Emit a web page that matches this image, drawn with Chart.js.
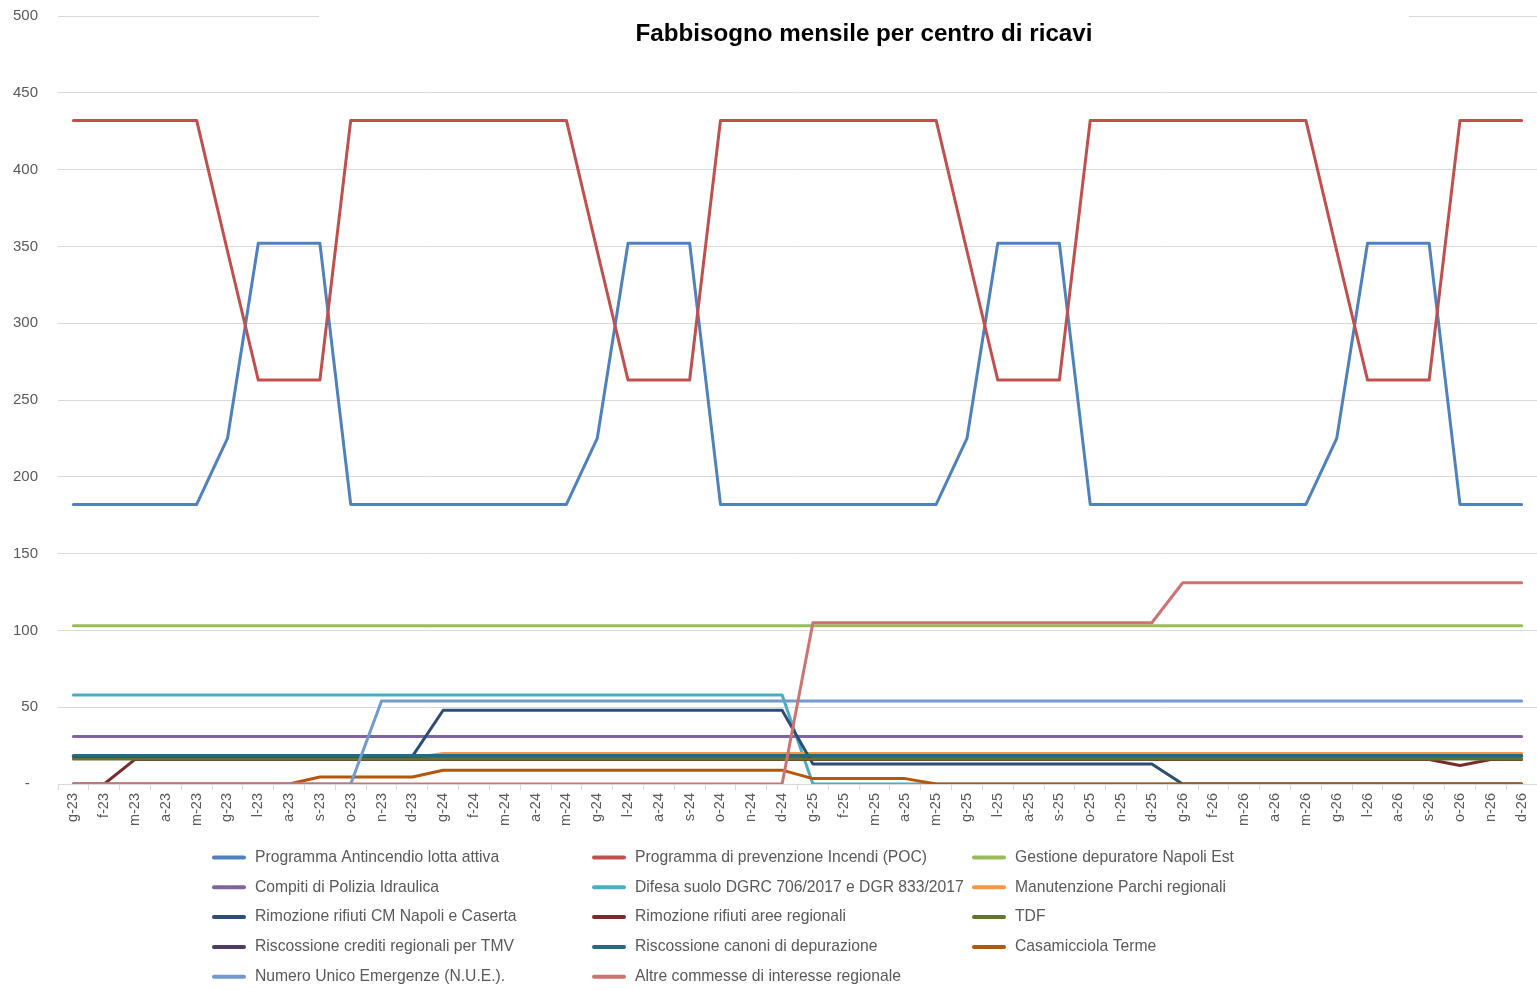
<!DOCTYPE html>
<html>
<head>
<meta charset="utf-8">
<script src="https://cdn.jsdelivr.net/npm/chart.js@4.4.1/dist/chart.umd.min.js"></script>
<style>
  body { margin: 0; background: #fff; }
  canvas { display: block; }
</style>
</head>
<body>
<canvas id="chart" width="1537" height="990"></canvas>
<script>
// --- data ---
const chartTitle = 'Fabbisogno mensile per centro di ricavi';

const months = [
  'g-23','f-23','m-23','a-23','m-23','g-23','l-23','a-23','s-23','o-23','n-23','d-23',
  'g-24','f-24','m-24','a-24','m-24','g-24','l-24','a-24','s-24','o-24','n-24','d-24',
  'g-25','f-25','m-25','a-25','m-25','g-25','l-25','a-25','s-25','o-25','n-25','d-25',
  'g-26','f-26','m-26','a-26','m-26','g-26','l-26','a-26','s-26','o-26','n-26','d-26'
];

const yTicks = [0, 50, 100, 150, 200, 250, 300, 350, 400, 450, 500];

const antincendio = [
  182,182,182,182,182,225,352,352,352,182,182,182,
  182,182,182,182,182,225,352,352,352,182,182,182,
  182,182,182,182,182,225,352,352,352,182,182,182,
  182,182,182,182,182,225,352,352,352,182,182,182
];
const prevenzione = [
  432,432,432,432,432,347,263,263,263,432,432,432,
  432,432,432,432,432,347,263,263,263,432,432,432,
  432,432,432,432,432,347,263,263,263,432,432,432,
  432,432,432,432,432,347,263,263,263,432,432,432
];
const depuratoreNapoliEst = [
  103,103,103,103,103,103,103,103,103,103,103,103,
  103,103,103,103,103,103,103,103,103,103,103,103,
  103,103,103,103,103,103,103,103,103,103,103,103,
  103,103,103,103,103,103,103,103,103,103,103,103
];
const poliziaIdraulica = [
  31,31,31,31,31,31,31,31,31,31,31,31,
  31,31,31,31,31,31,31,31,31,31,31,31,
  31,31,31,31,31,31,31,31,31,31,31,31,
  31,31,31,31,31,31,31,31,31,31,31,31
];
const difesaSuolo = [
  58,58,58,58,58,58,58,58,58,58,58,58,
  58,58,58,58,58,58,58,58,58,58,58,58,
  0,0,0,0,0,0,0,0,0,0,0,0,
  0,0,0,0,0,0,0,0,0,0,0,0
];
const parchiRegionali = [
  17,17,17,17,17,17,17,17,17,17,17,17,
  19.8,19.8,19.8,19.8,19.8,19.8,19.8,19.8,19.8,19.8,19.8,19.8,
  19.8,19.8,19.8,19.8,19.8,19.8,19.8,19.8,19.8,19.8,19.8,19.8,
  19.8,19.8,19.8,19.8,19.8,19.8,19.8,19.8,19.8,19.8,19.8,19.8
];
const rifiutiCM = [
  18,18,18,18,18,18,18,18,18,18,18,18,
  48,48,48,48,48,48,48,48,48,48,48,48,
  13,13,13,13,13,13,13,13,13,13,13,13,
  0,0,0,0,0,0,0,0,0,0,0,0
];
const rifiutiAree = [
  0,0,16,16,16,16,16,16,16,16,16,16,
  16,16,16,16,16,16,16,16,16,16,16,16,
  16,16,16,16,16,16,16,16,16,16,16,16,
  16,16,16,16,16,16,16,16,16,12,16,16
];
const tdf = [
  16.3,16.3,16.3,16.3,16.3,16.3,16.3,16.3,16.3,16.3,16.3,16.3,
  16.3,16.3,16.3,16.3,16.3,16.3,16.3,16.3,16.3,16.3,16.3,16.3,
  16.3,16.3,16.3,16.3,16.3,16.3,16.3,16.3,16.3,16.3,16.3,16.3,
  16.3,16.3,16.3,16.3,16.3,16.3,16.3,16.3,16.3,16.3,16.3,16.3
];
const creditiTMV = [
  18,18,18,18,18,18,18,18,18,18,18,18,
  18,18,18,18,18,18,18,18,18,18,18,18,
  18,18,18,18,18,18,18,18,18,18,18,18,
  18,18,18,18,18,18,18,18,18,18,18,18
];
const canoniDepurazione = [
  18.5,18.5,18.5,18.5,18.5,18.5,18.5,18.5,18.5,18.5,18.5,18.5,
  18.5,18.5,18.5,18.5,18.5,18.5,18.5,18.5,18.5,18.5,18.5,18.5,
  18.5,18.5,18.5,18.5,18.5,18.5,18.5,18.5,18.5,18.5,18.5,18.5,
  18.5,18.5,18.5,18.5,18.5,18.5,18.5,18.5,18.5,18.5,18.5,18.5
];
const casamicciola = [
  0,0,0,0,0,0,0,0,4.5,4.5,4.5,4.5,
  9,9,9,9,9,9,9,9,9,9,9,9,
  3.5,3.5,3.5,3.5,0,0,0,0,0,0,0,0,
  0,0,0,0,0,0,0,0,0,0,0,0
];
const nue = [
  0,0,0,0,0,0,0,0,0,0,54,54,
  54,54,54,54,54,54,54,54,54,54,54,54,
  54,54,54,54,54,54,54,54,54,54,54,54,
  54,54,54,54,54,54,54,54,54,54,54,54
];
const altreCommesse = [
  0,0,0,0,0,0,0,0,0,0,0,0,
  0,0,0,0,0,0,0,0,0,0,0,0,
  105,105,105,105,105,105,105,105,105,105,105,105,
  131,131,131,131,131,131,131,131,131,131,131,131
];

const seriesNames = [
  'Programma Antincendio lotta attiva',
  'Programma di prevenzione Incendi (POC)',
  'Gestione depuratore Napoli Est',
  'Compiti di Polizia Idraulica',
  'Difesa suolo DGRC 706/2017 e DGR 833/2017',
  'Manutenzione Parchi regionali',
  'Rimozione rifiuti CM Napoli e Caserta',
  'Rimozione rifiuti aree regionali',
  'TDF',
  'Riscossione crediti regionali per TMV',
  'Riscossione canoni di depurazione',
  'Casamicciola Terme',
  'Numero Unico Emergenze (N.U.E.).',
  'Altre commesse di interesse regionale'
];
const seriesValues = [
  antincendio, prevenzione, depuratoreNapoliEst, poliziaIdraulica, difesaSuolo,
  parchiRegionali, rifiutiCM, rifiutiAree, tdf, creditiTMV, canoniDepurazione,
  casamicciola, nue, altreCommesse
];
const seriesColors = [
  '#4F81BD', '#C0504D', '#9BBB59', '#8064A2', '#4BACC6', '#F79646',
  '#2C4D75', '#772C2A', '#5F7530', '#4D3B62', '#276A7C', '#B65708',
  '#729ACA', '#CD7371'
];

Chart.defaults.font.family = '"Liberation Sans", Arial, sans-serif';

// Excel-like title sitting inside the plot, on a white box over the top gridline
const titlePlugin = {
  id: 'excelTitle',
  beforeDatasetsDraw(chart) {
    const ctx = chart.ctx;
    ctx.save();
    ctx.fillStyle = '#ffffff';
    ctx.fillRect(319, 0, 1090, 55);
    ctx.fillStyle = '#000000';
    ctx.font = 'bold 24.2px "Liberation Sans", Arial, sans-serif';
    ctx.textAlign = 'center';
    ctx.textBaseline = 'middle';
    ctx.fillText(chartTitle, 864, 34);
    ctx.restore();
  }
};

// three-column legend under the axis
const legendPlugin = {
  id: 'gridLegend',
  afterDraw(chart) {
    const ctx = chart.ctx;
    const colX = [212, 592, 972];
    const rowTop = 857.5;
    const rowH = 29.8;
    ctx.save();
    ctx.font = '15.7px "Liberation Sans", Arial, sans-serif';
    ctx.textBaseline = 'middle';
    ctx.textAlign = 'left';
    chart.data.datasets.forEach((ds, i) => {
      const x = colX[i % 3];
      const y = rowTop + Math.floor(i / 3) * rowH;
      ctx.strokeStyle = ds.borderColor;
      ctx.lineWidth = 4;
      ctx.lineCap = 'round';
      ctx.beginPath();
      ctx.moveTo(x + 2, y);
      ctx.lineTo(x + 32, y);
      ctx.stroke();
      ctx.fillStyle = '#595959';
      ctx.fillText(ds.label, x + 43, y);
    });
    ctx.restore();
  }
};

const datasets = seriesNames.map((name, i) => ({
  label: name,
  data: seriesValues[i],
  borderColor: seriesColors[i],
  backgroundColor: seriesColors[i],
  borderWidth: 3,
  pointRadius: 0,
  tension: 0,
  borderCapStyle: 'round',
  borderJoinStyle: 'round',
  fill: false,
  order: seriesNames.length - i   // first series at the bottom, like Excel
}));

new Chart(document.getElementById('chart'), {
  type: 'line',
  data: { labels: months, datasets },
  plugins: [titlePlugin, legendPlugin],
  options: {
    responsive: false,
    animation: false,
    events: [],
    layout: { padding: { top: 16, right: 0, left: 0, bottom: 0 } },
    plugins: {
      legend: { display: false },
      title: { display: false },
      tooltip: { enabled: false }
    },
    scales: {
      x: {
        offset: true,
        afterFit: (scale) => {
          scale.height = 206;
          scale.paddingTop = 0;
          scale.paddingBottom = 0;
          scale.paddingLeft = 0;
          scale.paddingRight = 0;
        },
        grid: {
          offset: true,
          drawOnChartArea: false,
          drawTicks: true,
          tickLength: 6,
          color: '#d9d9d9'
        },
        border: { display: true, color: '#d9d9d9', width: 1 },
        ticks: {
          autoSkip: false,
          maxRotation: 90,
          minRotation: 90,
          padding: 3,
          color: '#595959',
          font: { size: 14.5 }
        }
      },
      y: {
        min: yTicks[0],
        max: yTicks[yTicks.length - 1],
        afterFit: (scale) => {
          scale.width = 58;
          scale.paddingTop = 0;
          scale.paddingBottom = 0;
        },
        afterBuildTicks: (scale) => { scale.ticks = yTicks.map(v => ({ value: v })); },
        grid: { color: '#d9d9d9', drawTicks: false, lineWidth: 1 },
        border: { display: false },
        ticks: {
          padding: 20,
          color: '#595959',
          font: { size: 15 },
          callback: (v) => (v === 0 ? '-  ' : String(v))
        }
      }
    }
  }
});
</script>
</body>
</html>
